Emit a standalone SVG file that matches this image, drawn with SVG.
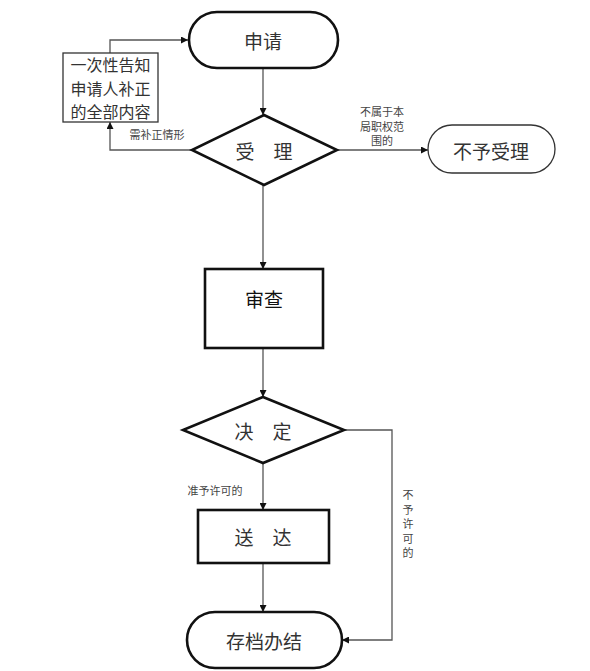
<svg xmlns="http://www.w3.org/2000/svg" width="590" height="671" viewBox="0 0 590 671">
<style>
.node{fill:#fff;stroke:#111;stroke-width:2.6}
.thin{fill:#fff;stroke:#333;stroke-width:1.3}
.t{font-family:"Noto Sans CJK SC","Noto Sans CJK JP",sans-serif;fill:#333;text-anchor:middle;dominant-baseline:central}
.big{font-size:19px}
.mid{font-size:16px}
.sm{font-size:11px;fill:#444}
.conn{fill:none;stroke:#555;stroke-width:1.3}
</style>
<defs>
<marker id="ah" viewBox="0 0 10 10" refX="10" refY="5" markerWidth="7" markerHeight="7" orient="auto" markerUnits="userSpaceOnUse">
<path d="M0,0 L10,5 L0,10 z" fill="#111"/>
</marker>
</defs>
<rect width="590" height="671" fill="#fff"/>
<g id="connectors">
<path class="conn" d="M263,68 V115" marker-end="url(#ah)"/>
<path class="conn" d="M110,53 V40 H188" marker-end="url(#ah)"/>
<path class="conn" d="M192,150 H110 V122" marker-end="url(#ah)"/>
<path class="conn" d="M337,150 H428" marker-end="url(#ah)"/>
<path class="conn" d="M263,185 V269" marker-end="url(#ah)"/>
<path class="conn" d="M263,348 V397" marker-end="url(#ah)"/>
<path class="conn" d="M263,463 V510" marker-end="url(#ah)"/>
<path class="conn" d="M344,430 H392 V640 H342" marker-end="url(#ah)"/>
<path class="conn" d="M263,563 V612" marker-end="url(#ah)"/>
<text class="t sm" x="157" y="134">需补正情形</text>
<text class="t sm" x="382" y="111">不属于本</text>
<text class="t sm" x="382" y="125.5">局职权范</text>
<text class="t sm" x="382" y="140">围的</text>
<text class="t sm" x="215" y="490">准予许可的</text>
<text class="t sm" x="408" y="494">不</text>
<text class="t sm" x="408" y="508.5">予</text>
<text class="t sm" x="408" y="523">许</text>
<text class="t sm" x="408" y="537.5">可</text>
<text class="t sm" x="408" y="552">的</text>
</g>
<g id="n-apply">
<rect class="node" x="189" y="12" width="149" height="56" rx="28"/>
<text class="t big" x="263" y="40">申请</text>
</g>
<g id="n-notify">
<rect class="thin" x="63" y="53" width="95" height="69"/>
<text class="t mid"><tspan x="110.5" y="64">一次性告知</tspan><tspan x="110.5" y="87.5">申请人补正</tspan><tspan x="110.5" y="111">的全部内容</tspan></text>
</g>
<g id="n-accept">
<polygon class="node" points="264,115 337,150 264,185 192,150"/>
<text class="t big" x="264" y="150">受　理</text>
</g>
<g id="n-reject">
<rect class="thin" x="428" y="125" width="127" height="48" rx="24"/>
<text class="t big" x="491" y="150">不予受理</text>
</g>
<g id="n-review">
<rect class="node" x="205" y="269" width="118" height="79" stroke-width="3"/>
<text class="t big" x="264" y="298" style="fill:#111">审查</text>
</g>
<g id="n-decide">
<polygon class="node" points="263,397 344,430 263,463 183,430"/>
<text class="t big" x="263" y="430">决　定</text>
</g>
<g id="n-deliver">
<rect class="node" x="198" y="510" width="131" height="53"/>
<text class="t big" x="263" y="536">送　达</text>
</g>
<g id="n-archive">
<rect class="node" x="187" y="612" width="155" height="56" rx="28"/>
<text class="t big" x="264" y="640">存档办结</text>
</g>
</svg>
